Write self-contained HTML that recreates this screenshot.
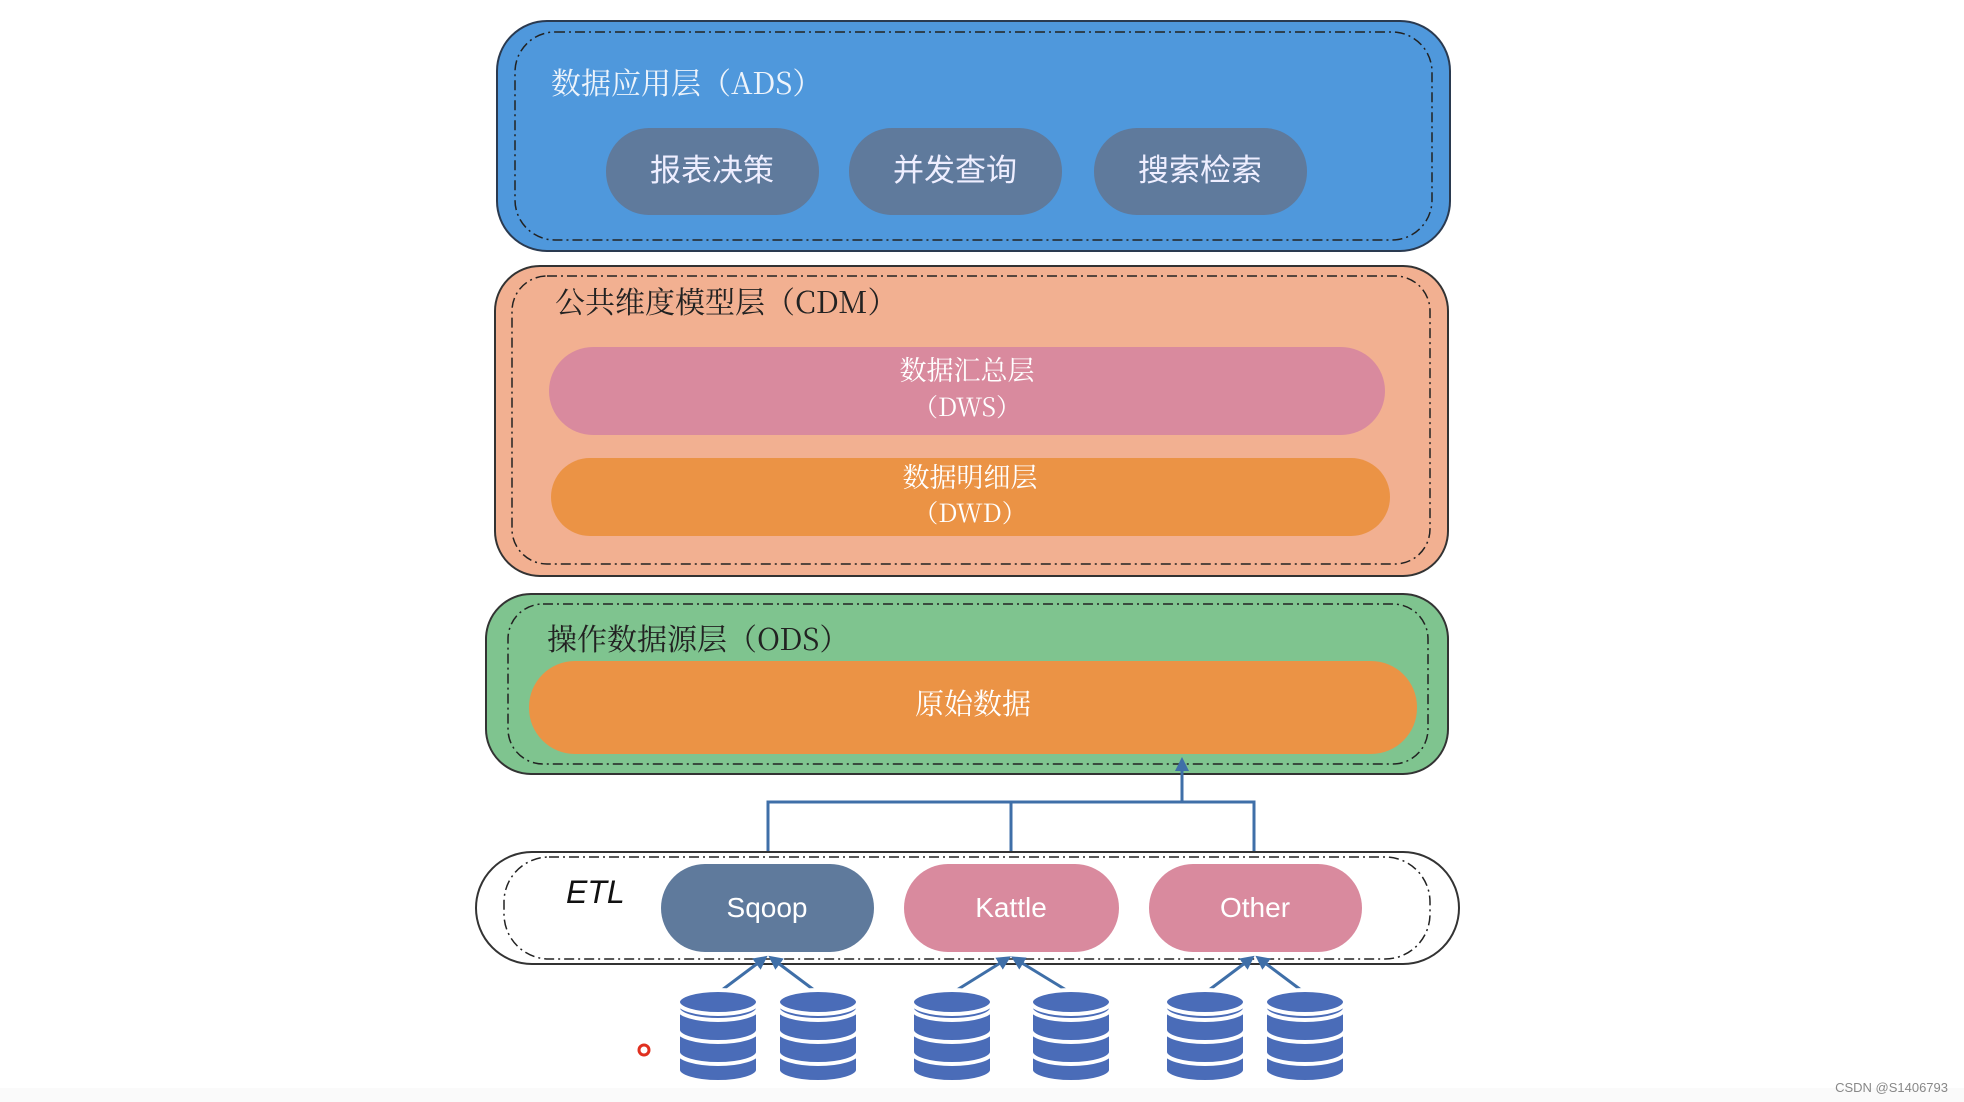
<!DOCTYPE html>
<html><head><meta charset="utf-8"><style>
body{margin:0;background:#fff}
svg{display:block}
text{font-family:"Liberation Sans","Noto Sans CJK SC",sans-serif}
.cn{font-family:"Noto Serif CJK SC","Liberation Serif",serif}
</style></head><body>
<svg width="1964" height="1102" viewBox="0 0 1964 1102" xmlns="http://www.w3.org/2000/svg">
<defs>
<marker id="ah" markerWidth="14" markerHeight="14" refX="7" refY="7" orient="auto" markerUnits="userSpaceOnUse"><path d="M0,0 L14,7 L0,14 z" fill="#3f6fa8"/></marker>
<g id="db">
<g fill="#4a6cb8" stroke="#fff" stroke-width="4">
<path d="M-40,62 v18 a40,12 0 0 0 80,0 v-18"/>
<path d="M-40,40 v22 a40,12 0 0 0 80,0 v-22"/>
<path d="M-40,18 v22 a40,12 0 0 0 80,0 v-22"/>
<path d="M-40,12 v6 a40,12 0 0 0 80,0 v-6"/>
<ellipse cx="0" cy="12" rx="40" ry="12"/>
</g></g>
</defs>
<rect x="0" y="1088" width="1964" height="14" fill="#fafafa"/>
<!-- ADS -->
<rect x="497" y="21" width="953" height="230" rx="50" fill="#4f98dc" stroke="#2a3a50" stroke-width="2"/>
<rect x="515" y="32" width="917" height="208" rx="40" fill="none" stroke="#222" stroke-width="1.5" stroke-dasharray="10,4,2,4"/>
<text x="551" y="94" font-size="30" fill="#eef4fb" class="cn">数据应用层（ADS）</text>
<g fill="#5f7a9c"><rect x="606" y="128" width="213" height="87" rx="43"/><rect x="849" y="128" width="213" height="87" rx="43"/><rect x="1094" y="128" width="213" height="87" rx="43"/></g>
<g font-size="31" fill="#eef" text-anchor="middle" class="cn"><text x="712" y="181">报表决策</text><text x="955" y="181">并发查询</text><text x="1200" y="181">搜索检索</text></g>
<!-- CDM -->
<rect x="495" y="266" width="953" height="310" rx="45" fill="#f2b091" stroke="#333" stroke-width="2"/>
<rect x="512" y="276" width="918" height="288" rx="35" fill="none" stroke="#222" stroke-width="1.5" stroke-dasharray="10,4,2,4"/>
<text x="555" y="313" font-size="30" fill="#222" class="cn">公共维度模型层（CDM）</text>
<rect x="549" y="347" width="836" height="88" rx="44" fill="#d98a9e"/>
<text x="967" y="380" font-size="27" fill="#fff" text-anchor="middle" class="cn">数据汇总层</text>
<text x="967" y="416" font-size="25" fill="#fff" text-anchor="middle" class="cn">（DWS）</text>
<rect x="551" y="458" width="839" height="78" rx="39" fill="#eb9345"/>
<text x="970" y="487" font-size="27" fill="#fff" text-anchor="middle" class="cn">数据明细层</text>
<text x="970" y="522" font-size="25" fill="#fff" text-anchor="middle" class="cn">（DWD）</text>
<!-- ODS -->
<rect x="486" y="594" width="962" height="180" rx="45" fill="#7fc48f" stroke="#333" stroke-width="2"/>
<rect x="508" y="604" width="920" height="160" rx="35" fill="none" stroke="#222" stroke-width="1.5" stroke-dasharray="10,4,2,4"/>
<text x="547" y="650" font-size="30" fill="#222" class="cn">操作数据源层（ODS）</text>
<rect x="529" y="661" width="888" height="93" rx="46" fill="#eb9345"/>
<text x="973" y="714" font-size="29" fill="#fff" text-anchor="middle" class="cn">原始数据</text>
<!-- connectors -->
<g stroke="#3f6fa8" stroke-width="3" fill="none">
<path d="M768,864 V802 H1254 V864 M1011,864 V802"/>
<path d="M1182,802 V764" marker-end="url(#ah)"/>
</g>
<!-- ETL -->
<rect x="476" y="852" width="983" height="112" rx="56" fill="#fff" stroke="#333" stroke-width="2"/>
<rect x="504" y="857" width="926" height="102" rx="45" fill="none" stroke="#222" stroke-width="1.5" stroke-dasharray="10,4,2,4"/>
<text x="566" y="903" font-size="32" font-style="italic" fill="#111">ETL</text>
<rect x="661" y="864" width="213" height="88" rx="44" fill="#5f7a9c"/>
<rect x="904" y="864" width="215" height="88" rx="44" fill="#d98a9e"/>
<rect x="1149" y="864" width="213" height="88" rx="44" fill="#d98a9e"/>
<g font-size="28" fill="#fff" text-anchor="middle"><text x="767" y="917" font-family="Liberation Mono,monospace">Sqoop</text><text x="1011" y="917" font-family="Liberation Mono,monospace">Kattle</text><text x="1255" y="917" font-family="Liberation Mono,monospace">Other</text></g>
<!-- db arrows -->
<g stroke="#3f6fa8" stroke-width="3" marker-end="url(#ah)">
<line x1="718" y1="993" x2="762" y2="960"/><line x1="818" y1="993" x2="774" y2="960"/>
<line x1="952" y1="993" x2="1005" y2="960"/><line x1="1071" y1="993" x2="1017" y2="960"/>
<line x1="1205" y1="993" x2="1249" y2="960"/><line x1="1305" y1="993" x2="1261" y2="960"/>
</g>
<use href="#db" x="718" y="990"/><use href="#db" x="818" y="990"/>
<use href="#db" x="952" y="990"/><use href="#db" x="1071" y="990"/>
<use href="#db" x="1205" y="990"/><use href="#db" x="1305" y="990"/>
<circle cx="644" cy="1050" r="5" fill="none" stroke="#e03020" stroke-width="3"/>
<text x="1948" y="1092" font-size="13" fill="#888" text-anchor="end">CSDN @S1406793</text>
</svg>
</body></html>
